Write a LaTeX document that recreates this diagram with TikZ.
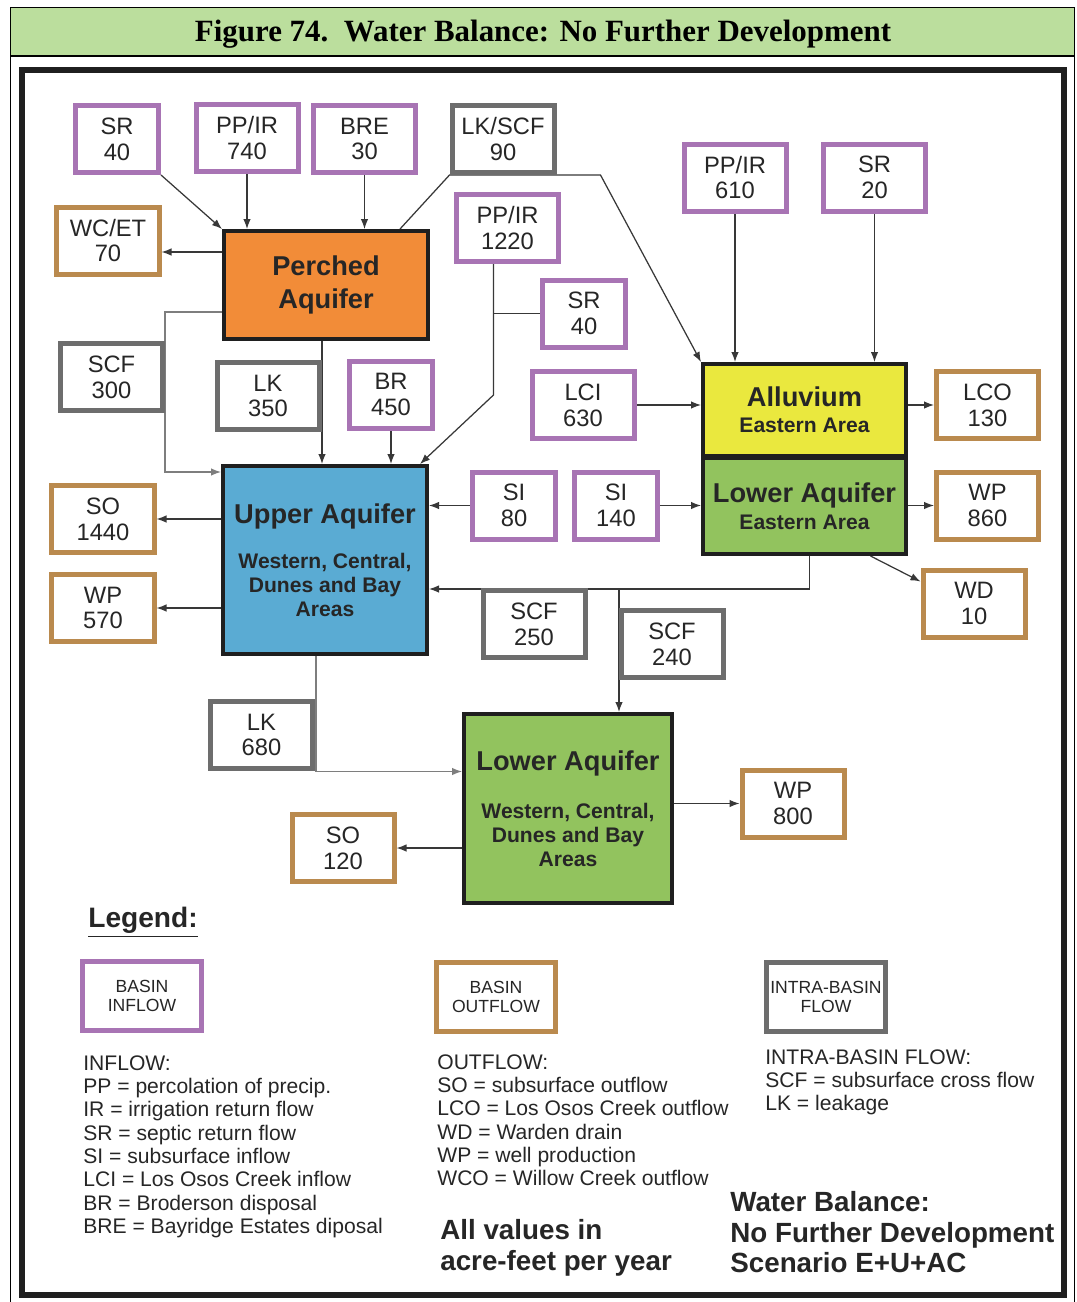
\documentclass[tikz,border=0pt]{standalone}
\usepackage{fontspec}
\setmainfont{Liberation Sans}
\newfontfamily\titlefont{Liberation Serif}
\usetikzlibrary{arrows.meta,calc,backgrounds}

\definecolor{inpurple}{HTML}{A874B4}
\definecolor{outbrown}{HTML}{BA8A4E}
\definecolor{intragray}{HTML}{6D6D6D}
\definecolor{linkgray}{HTML}{7E7E7E}
\definecolor{perchedorange}{HTML}{F28C38}
\definecolor{upperblue}{HTML}{5AABD3}
\definecolor{alluvyellow}{HTML}{EAE83E}
\definecolor{lowergreen}{HTML}{92C35E}
\definecolor{titlegreen}{HTML}{BBDE9D}

\newcommand\aqtitle{\fontsize{15.5}{13.5}\selectfont\bfseries}
\newcommand\aqsub{\fontsize{12}{13.5}\selectfont\bfseries}

\tikzset{
  flowbox/.style={draw, line width=1mm, fill=white, text=black!85, align=center,
    inner sep=0pt, minimum height=13.4mm, font=\fontsize{13.5}{14.7}\selectfont},
  inflow/.style={flowbox, draw=inpurple},
  outflow/.style={flowbox, draw=outbrown},
  intra/.style={flowbox, draw=intragray},
  narrow/.style={minimum width=16.6mm},
  wide/.style={minimum width=20.4mm},
  aquifer/.style={draw=black!88, line width=0.8mm, align=center, text=black!85, inner sep=0pt,
    font=\aqtitle},
  flow/.style={draw=black!78, line width=0.25mm, -{Latex[length=2mm,width=1.5mm]}},
  link/.style={draw=black!78, line width=0.25mm},
  keybox/.style={draw, line width=1mm, fill=white, text=black!85, align=center, inner sep=0pt,
    minimum width=23.8mm, minimum height=13.8mm, font=\fontsize{10}{10.8}\selectfont},
  keytext/.style={anchor=north west, align=left, inner sep=0pt, text=black!85,
    font=\fontsize{12}{13.3}\selectfont},
  bigtext/.style={anchor=north west, align=left, inner sep=0pt, text=black!85,
    font=\fontsize{15.8}{17.4}\selectfont\bfseries},
}

\begin{document}
\begin{tikzpicture}[x=0.2mm, y=-0.2mm]
	%%%%% START %%%%%
	\useasboundingbox (0,0) rectangle (1076,1302);
	
	% page frame and title band
	\draw[line width=0.3mm] (10.5,1302) -- (10.5,7.5) -- (1074.5,7.5) -- (1074.5,1302);
	\draw[line width=0.3mm, fill=titlegreen] (10.5,7.5) rectangle (1074.5,56);
	\node[font=\titlefont\bfseries\fontsize{17.6}{20}\selectfont] (title) at (543,34)
		{Figure 74.\ \ Water Balance: No Further Development};
	\draw[line width=1.2mm, draw=black!88] (22,69.5) rectangle (1064,1294.5);
	
	% aquifers
	\node[aquifer, fill=perchedorange, minimum width=40.8mm, minimum height=21.6mm] (perched) at (326,285)
		{Perched\\[5.2pt]Aquifer};
	\node[aquifer, fill=upperblue, minimum width=40.8mm, minimum height=37.6mm] (upper) at (325,560)
		{Upper Aquifer\\[12.5pt]\aqsub Western, Central,\\\aqsub Dunes and Bay\\\aqsub Areas};
	\node[aquifer, fill=alluvyellow, minimum width=40.6mm, minimum height=18.4mm] (alluvium) at (804.5,410)
		{Alluvium\\[1.2pt]\aqsub Eastern Area};
	\node[aquifer, fill=lowergreen, minimum width=40.6mm, minimum height=19.2mm] (lowereast) at (804.5,506)
		{Lower Aquifer\\[1.8pt]\aqsub Eastern Area};
	\node[aquifer, fill=lowergreen, minimum width=41.6mm, minimum height=37.8mm] (lowerwest) at (568,808.5)
		{Lower Aquifer\\[14.3pt]\aqsub Western, Central,\\\aqsub Dunes and Bay\\\aqsub Areas};
	
	% flow boxes
	\node[inflow, narrow] (sr40) at (117,139) {SR\\40};
	\node[inflow, wide] (ppir740) at (247,138) {PP/IR\\740};
	\node[inflow, wide] (bre30) at (364.5,139) {BRE\\30};
	\node[intra, wide] (lkscf90) at (503,139) {LK/SCF\\90};
	\node[outflow, wide] (wcet70) at (108,240.5) {WC/ET\\70};
	\node[inflow, wide] (ppir1220) at (507.5,228) {PP/IR\\1220};
	\node[inflow, wide] (ppir610) at (735,177.5) {PP/IR\\610};
	\node[inflow, wide] (sr20) at (874.5,177.5) {SR\\20};
	\node[inflow, narrow] (sr40b) at (584,313.5) {SR\\40};
	\node[intra, wide] (scf300) at (111.5,377) {SCF\\300};
	\node[intra, wide] (lk350) at (268,396) {LK\\350};
	\node[inflow, narrow] (br450) at (391,394.5) {BR\\450};
	\node[inflow, wide] (lci630) at (583,405) {LCI\\630};
	\node[outflow, wide] (lco130) at (987.5,405) {LCO\\130};
	\node[inflow, narrow] (si80) at (514,505.5) {SI\\80};
	\node[inflow, narrow] (si140) at (616,505.5) {SI\\140};
	\node[outflow, wide] (so1440) at (103,519) {SO\\1440};
	\node[outflow, wide] (wp570) at (103,608) {WP\\570};
	\node[outflow, wide] (wp860) at (987.5,505.5) {WP\\860};
	\node[outflow, wide] (wd10) at (974,603.5) {WD\\10};
	\node[intra, wide] (scf250) at (534,624) {SCF\\250};
	\node[intra, wide] (scf240) at (672,644) {SCF\\240};
	\node[intra, wide] (lk680) at (261.5,735) {LK\\680};
	\node[outflow, wide] (wp800) at (793,803.5) {WP\\800};
	\node[outflow, wide] (so120) at (343,848) {SO\\120};
	
	\begin{scope}[on background layer]
		% into and out of the perched aquifer
		\draw[flow] (sr40.south east) -- (perched.north west);
		\draw[flow] (ppir740.south) -- (ppir740.south |- perched.north);
		\draw[flow] (bre30.south) -- (bre30.south |- perched.north);
		\draw[flow] ($(perched.north east)+(-30,0)$) -- (lkscf90.south west)
			-- ($(lkscf90.south east)+(44,0)$) -- (alluvium.north west);
		\coordinate (etrow) at ($(perched.west)+(0,-33)$);
		\draw[flow] (etrow) -- (etrow -| wcet70.east);
		\coordinate (scfrow) at ($(perched.west)+(0,27)$);
		\draw[flow, draw=linkgray] (scfrow) -| ($(scf300.east |- upper.north)+(0,8)$)
			-- ($(upper.north west)+(0,8)$);
		\draw[flow] ($(perched.south)+(-4,0)$) -- ($(upper.north)+(-3,0)$);
		
		% upper aquifer
		\draw[flow] (br450.south) -- (br450.south |- upper.north);
		\coordinate (ppdrop) at ($(ppir1220.south)+(-14,0)$);
		\draw[flow] (ppdrop) -- ($(ppdrop)+(0,131)$) -- ($(upper.north east)+(-9,0)$);
		\draw[link] (sr40b.west) -- (sr40b.west -| ppdrop);
		\draw[flow] (upper.west |- so1440) -- (so1440.east);
		\draw[flow] (upper.west |- wp570) -- (wp570.east);
		\draw[flow] (si80.west) -- (si80.west -| upper.east);
		\draw[flow, draw=linkgray] ($(upper.south)+(-9,0)$) |- ($(lowerwest.west)+(0,-37)$);
		
		% eastern area
		\draw[flow] (ppir610.south) -- (ppir610.south |- alluvium.north);
		\draw[flow] (sr20.south) -- (sr20.south |- alluvium.north);
		\draw[flow] (lci630.east) -- (lci630.east -| alluvium.west);
		\draw[flow] (alluvium.east |- lco130) -- (lco130.west);
		\draw[flow] (si140.east) -- (si140.east -| lowereast.west);
		\draw[flow] (lowereast.east |- wp860) -- (wp860.west);
		\draw[flow] ($(lowereast.south)+(66,0)$) -- ($(wd10.north west)+(0,14)$);
		\coordinate (scfrow2) at ($(upper.east)+(0,29)$);
		\draw[flow] ($(lowereast.south)+(5,0)$) |- (scfrow2);
		\coordinate (scfdrop) at ($(lowerwest.north)+(51,0)$);
		\draw[flow] (scfdrop |- scfrow2) -- (scfdrop);
		
		% lower aquifer, western area
		\draw[flow] (lowerwest.west |- so120) -- (so120.east);
		\draw[flow] (lowerwest.east |- wp800) -- (wp800.west);
	\end{scope}
	
	% legend
	\node[anchor=west, inner sep=0pt, text=black!85, font=\fontsize{16}{18}\selectfont\bfseries] (legendhead)
		at (88,922) {\underline{Legend:}};
	\node[keybox, draw=inpurple] (keyin) at (142,996) {BASIN\\INFLOW};
	\node[keybox, draw=outbrown] (keyout) at (496,997) {BASIN\\OUTFLOW};
	\node[keybox, draw=intragray] (keyintra) at (826,997) {INTRA-BASIN\\FLOW};
	\node[keytext] (inlist) at (83,1055) {INFLOW:\\PP = percolation of precip.\\IR = irrigation return flow\\
		SR = septic return flow\\SI = subsurface inflow\\LCI = Los Osos Creek inflow\\
		BR = Broderson disposal\\BRE = Bayridge Estates diposal};
	\node[keytext] (outlist) at (437,1054) {OUTFLOW:\\SO = subsurface outflow\\LCO = Los Osos Creek outflow\\
		WD = Warden drain\\WP = well production\\WCO = Willow Creek outflow};
	\node[keytext] (intralist) at (765,1049) {INTRA-BASIN FLOW:\\SCF = subsurface cross flow\\LK = leakage};
	\node[bigtext] (units) at (440,1219) {All values in\\acre-feet per year};
	\node[bigtext] (scenario) at (730,1191) {Water Balance:\\No Further Development\\Scenario E+U+AC};
	
	%%%%% END %%%%%
\end{tikzpicture}
\end{document}
